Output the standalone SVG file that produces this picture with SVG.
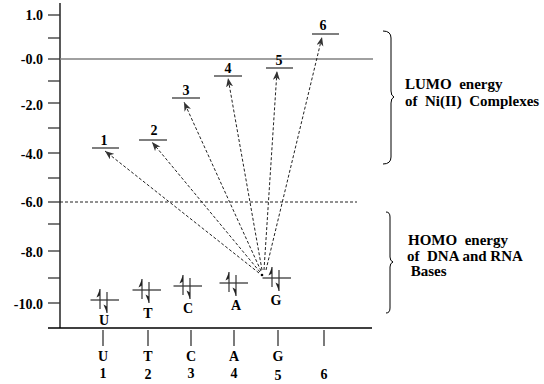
<svg xmlns="http://www.w3.org/2000/svg" width="544" height="384" viewBox="0 0 544 384">
<style>
text{font-family:"Liberation Serif","Times New Roman",serif;font-weight:bold;fill:#000}
.tl{font-size:14px;text-anchor:end}
.lb{font-size:14px;text-anchor:middle}
.ax{stroke:#000;stroke-width:1.3;fill:none}
.tk{stroke:#333;stroke-width:1.3}
.lv{stroke:#555;stroke-width:1.5}
.da{stroke:#222;stroke-width:1;stroke-dasharray:3,2;fill:none}
.br{stroke:#000;stroke-width:1;fill:none}
.side{font-size:15px;white-space:pre}
</style>
<defs>
<marker id="ah" markerWidth="10" markerHeight="8" refX="9" refY="3.5" orient="auto" markerUnits="userSpaceOnUse">
<path d="M0,0 L9,3.5 L0,7 L2.5,3.5 z" fill="#333"/>
</marker>
<g id="spin">
<line x1="-9.5" y1="0" x2="19" y2="0" stroke="#555" stroke-width="1.5"/>
<line x1="0" y1="-11" x2="0" y2="9" stroke="#333" stroke-width="1.2"/>
<polygon points="0,-11 -3.5,-2.5 0,-4.5" fill="#222"/>
<line x1="7" y1="-8" x2="7" y2="13" stroke="#333" stroke-width="1.2"/>
<polygon points="7,13 3.5,4.5 7,6.5" fill="#222"/>
</g>
</defs>

<g id="axes">
<line class="ax" x1="60" y1="3" x2="60" y2="328"/>
<line class="ax" x1="48" y1="328" x2="372" y2="328"/>
<line class="tk" x1="48" y1="15" x2="60" y2="15"/>
<line class="tk" x1="48" y1="38" x2="60" y2="38"/>
<line class="tk" x1="48" y1="59" x2="60" y2="59"/>
<line class="tk" x1="48" y1="81" x2="60" y2="81"/>
<line class="tk" x1="48" y1="103" x2="60" y2="103"/>
<line class="tk" x1="48" y1="128" x2="60" y2="128"/>
<line class="tk" x1="48" y1="153" x2="60" y2="153"/>
<line class="tk" x1="48" y1="178" x2="60" y2="178"/>
<line class="tk" x1="48" y1="202" x2="60" y2="202"/>
<line class="tk" x1="48" y1="224" x2="60" y2="224"/>
<line class="tk" x1="48" y1="251" x2="60" y2="251"/>
<line class="tk" x1="48" y1="278" x2="60" y2="278"/>
<line class="tk" x1="48" y1="303" x2="60" y2="303"/>
<text class="tl" x="43" y="20">1.0</text>
<text class="tl" x="43" y="64">-0.0</text>
<text class="tl" x="43" y="110">-2.0</text>
<text class="tl" x="43" y="159">-4.0</text>
<text class="tl" x="43" y="207">-6.0</text>
<text class="tl" x="43" y="257">-8.0</text>
<text class="tl" x="43" y="309">-10.0</text>
<line x1="60" y1="59" x2="373" y2="59" stroke="#808080" stroke-width="1.5"/>
<line class="da" x1="60" y1="202" x2="357" y2="202"/>
<line class="tk" x1="103" y1="330" x2="103" y2="346"/>
<line class="tk" x1="148" y1="330" x2="148" y2="346"/>
<line class="tk" x1="191" y1="330" x2="191" y2="346"/>
<line class="tk" x1="234" y1="330" x2="234" y2="346"/>
<line class="tk" x1="278" y1="330" x2="278" y2="346"/>
<line class="tk" x1="324" y1="330" x2="324" y2="346"/>
<text class="lb" x="103" y="361">U</text>
<text class="lb" x="148" y="361">T</text>
<text class="lb" x="191" y="361">C</text>
<text class="lb" x="234" y="361">A</text>
<text class="lb" x="278" y="361">G</text>
<text class="lb" x="103" y="378">1</text>
<text class="lb" x="148" y="379">2</text>
<text class="lb" x="191" y="378">3</text>
<text class="lb" x="234" y="378">4</text>
<text class="lb" x="278" y="380">5</text>
<text class="lb" x="324" y="379">6</text>
</g>

<g id="lumo1"><line class="lv" x1="92" y1="148" x2="119" y2="148"/><text class="lb" x="104" y="145">1</text></g>
<g id="lumo2"><line class="lv" x1="139" y1="140" x2="167" y2="140"/><text class="lb" x="154" y="135">2</text></g>
<g id="lumo3"><line class="lv" x1="172" y1="98" x2="200" y2="98"/><text class="lb" x="186" y="95">3</text></g>
<g id="lumo4"><line class="lv" x1="214" y1="76" x2="242" y2="76"/><text class="lb" x="228" y="73">4</text></g>
<g id="lumo5"><line class="lv" x1="266" y1="68" x2="293" y2="68"/><text class="lb" x="279" y="65">5</text></g>
<g id="lumo6"><line class="lv" x1="312" y1="34" x2="339" y2="34"/><text class="lb" x="323" y="30">6</text></g>

<g id="baseU"><use href="#spin" x="100" y="300"/><text class="lb" x="104" y="325">U</text></g>
<g id="baseT"><use href="#spin" x="142" y="290"/><text class="lb" x="148" y="318">T</text></g>
<g id="baseC"><use href="#spin" x="183" y="286"/><text class="lb" x="188" y="313">C</text></g>
<g id="baseA"><use href="#spin" x="229" y="283"/><text class="lb" x="236" y="310">A</text></g>
<g id="baseG"><use href="#spin" x="272" y="278"/><text class="lb" x="276" y="305">G</text></g>

<g id="connectors">
<line class="da" x1="259" y1="273" x2="105" y2="151" marker-end="url(#ah)"/>
<line class="da" x1="260" y1="272" x2="152" y2="142" marker-end="url(#ah)"/>
<line class="da" x1="261" y1="271" x2="184" y2="102" marker-end="url(#ah)"/>
<line class="da" x1="262" y1="270" x2="228" y2="78" marker-end="url(#ah)"/>
<line class="da" x1="264" y1="270" x2="277" y2="71" marker-end="url(#ah)"/>
<line class="da" x1="266" y1="270" x2="322" y2="37" marker-end="url(#ah)"/>
<circle cx="262" cy="275" r="1.3" fill="#000"/>
</g>

<g id="lumoBrace">
<path class="br" d="M383,31 Q391,31 391,38 L391,91 Q391,96 394,97 Q391,98 391,103 L391,157 Q391,164 383,164"/>
<text class="side" x="405" y="89">LUMO  energy</text>
<text class="side" x="405" y="106">of  Ni(II)  Complexes</text>
</g>

<g id="homoBrace">
<path class="br" d="M386,212 Q390,212 390,217 L390,257 Q390,261 393,262 Q390,263 390,267 L390,308 Q390,313 386,313"/>
<text class="side" x="408" y="245">HOMO  energy</text>
<text class="side" x="407" y="261">of  DNA and RNA</text>
<text class="side" x="407" y="276"> Bases</text>
</g>
</svg>
